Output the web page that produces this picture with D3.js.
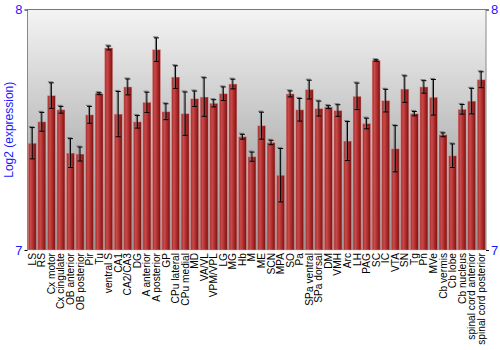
<!DOCTYPE html>
<html><head><meta charset="utf-8">
<script src="https://cdn.jsdelivr.net/npm/d3@7"></script>
<style>body{margin:0;background:#fff}svg{display:block;font-family:"Liberation Sans",Arial,sans-serif}</style>
</head><body><svg id="c" width="500" height="350"></svg>
<script>
const categories = ["LS","RS","Cx motor","Cx cingulate","OB anterior","OB posterior","Pir","Tu","ventral S","CA1","CA2/CA3","DG","A anterior","A posterior","GP","CPu lateral","CPu medial","MD","VA/VL","VPM/VPL","LG","MG","Hb","M","ME","SCN","MPA","SO","Pa","SPa ventral","SPa dorsal","DM","VMH","Arc","LH","PAG","SC","IC","VTA","SN","Tg","Pn","MVe","Cb vermis","Cb lobe","Cb nucleus","spinal cord anterior","spinal cord posterior"];
const values = [7.444,7.533,7.642,7.583,7.403,7.399,7.562,7.650,7.840,7.565,7.678,7.533,7.614,7.833,7.575,7.719,7.567,7.629,7.636,7.610,7.650,7.690,7.471,7.388,7.517,7.447,7.311,7.649,7.583,7.667,7.588,7.594,7.580,7.453,7.639,7.526,7.788,7.621,7.421,7.669,7.567,7.678,7.635,7.479,7.392,7.585,7.619,7.708];
const errors = [0.065,0.039,0.053,0.014,0.060,0.029,0.035,0.004,0.008,0.094,0.033,0.026,0.042,0.049,0.033,0.047,0.090,0.032,0.080,0.015,0.028,0.020,0.010,0.019,0.056,0.009,0.111,0.0125,0.047,0.039,0.031,0.006,0.024,0.081,0.055,0.022,0.003,0.047,0.096,0.055,0.009,0.026,0.074,0.008,0.049,0.020,0.053,0.033];
const yTicks = [7, 8];
const yLabel = "Log2 (expression)";

const svg = d3.select("#c");
const L = 27.5, R = 486, T = 9.5, B = 250;
const x = d3.scaleBand().domain(categories).range([L, R]).paddingInner(0.16).paddingOuter(0.08);
const y = d3.scaleLinear().domain([7, 8]).range([B, T]);

const defs = svg.append("defs");
const bg = defs.append("linearGradient").attr("id","bg").attr("x1",0).attr("y1",0).attr("x2",0).attr("y2",1);
bg.append("stop").attr("offset","0%").attr("stop-color","#f4f4f4");
bg.append("stop").attr("offset","100%").attr("stop-color","#8e8e8e");
const bar = defs.append("linearGradient").attr("id","bar").attr("x1",0).attr("y1",0).attr("x2",1).attr("y2",0);
bar.append("stop").attr("offset","0%").attr("stop-color","#a02a2a");
bar.append("stop").attr("offset","30%").attr("stop-color","#c94a4a");
bar.append("stop").attr("offset","70%").attr("stop-color","#a52424");
bar.append("stop").attr("offset","100%").attr("stop-color","#6e1212");

svg.append("rect").attr("x",L).attr("y",T).attr("width",R-L).attr("height",B-T).attr("fill","url(#bg)");

const g = svg.append("g");
g.selectAll("rect.b").data(categories).join("rect").attr("class","b")
  .attr("x", d => x(d)).attr("width", x.bandwidth())
  .attr("y", (d,i) => y(values[i])).attr("height", (d,i) => B - y(values[i]))
  .attr("fill","url(#bar)").attr("stroke","rgba(240,170,170,0.55)").attr("stroke-width",0.8);

const eb = g.selectAll("g.e").data(categories).join("g").attr("class","e");
function drawErr(sel, dx, dy, color, w) {
  sel.append("line").attr("x1",(d)=>x(d)+x.bandwidth()/2+dx).attr("x2",(d)=>x(d)+x.bandwidth()/2+dx)
    .attr("y1",(d,i)=>y(values[i]+errors[i])+dy).attr("y2",(d,i)=>y(values[i]-errors[i])+dy)
    .attr("stroke",color).attr("stroke-width",w);
  [1,-1].forEach(s => {
    sel.append("line").attr("x1",(d)=>x(d)+x.bandwidth()/2-2.5+dx).attr("x2",(d)=>x(d)+x.bandwidth()/2+2.5+dx)
      .attr("y1",(d,i)=>y(values[i]+s*errors[i])+dy).attr("y2",(d,i)=>y(values[i]+s*errors[i])+dy)
      .attr("stroke",color).attr("stroke-width",w);
  });
}
drawErr(eb, -1, -1, "rgba(110,110,110,0.8)", 1.2);
drawErr(eb, 0, 0, "#000", 1);

svg.append("line").attr("x1",L).attr("x2",R).attr("y1",T).attr("y2",T).attr("stroke","#777").attr("stroke-width",1);
svg.append("line").attr("x1",L).attr("x2",L).attr("y1",T).attr("y2",B).attr("stroke","#888").attr("stroke-width",1);
svg.append("line").attr("x1",R).attr("x2",R).attr("y1",T).attr("y2",B).attr("stroke","#888").attr("stroke-width",1);

const la = svg.append("g").attr("transform",`translate(${L},0)`)
  .call(d3.axisLeft(y).tickValues(yTicks).tickFormat(d3.format("d")).tickSize(3).tickPadding(2));
la.select(".domain").remove();
la.selectAll("line").attr("stroke","#000");
la.selectAll("text").attr("fill","#1a1aff").style("font-size","13px").attr("font-family","Liberation Sans, Arial, sans-serif");
const ra = svg.append("g").attr("transform",`translate(${R},0)`)
  .call(d3.axisRight(y).tickValues(yTicks).tickFormat(d3.format("d")).tickSize(3).tickPadding(2));
ra.select(".domain").remove();
ra.selectAll("line").attr("stroke","#000");
ra.selectAll("text").attr("fill","#1a1aff").style("font-size","13px").attr("font-family","Liberation Sans, Arial, sans-serif");

svg.append("g").selectAll("text").data(categories).join("text")
  .attr("transform", d => `translate(${x(d)+x.bandwidth()/2+3.5},${B+3}) rotate(-90)`)
  .attr("text-anchor","end").style("font-size","10.2px").attr("fill","#000").text(d => d);

svg.append("text").attr("transform",`translate(13,${(T+B)/2}) rotate(-90)`)
  .attr("text-anchor","middle").style("font-size","12px").attr("fill","#1a1aff").text(yLabel);
</script></body></html>
